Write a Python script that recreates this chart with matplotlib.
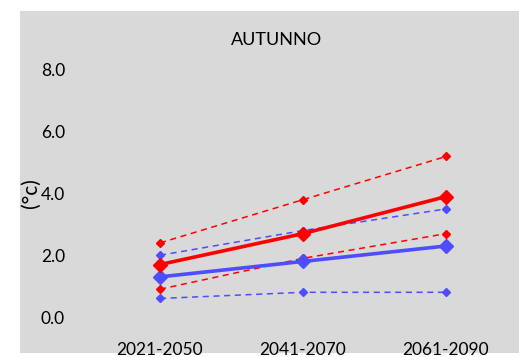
import matplotlib.pyplot as plt
from matplotlib.patches import Rectangle

periods = ['2021-2050', '2041-2070', '2061-2090']
red_mean = [1.7, 2.7, 3.9]
red_high = [2.4, 3.8, 5.2]
red_low = [0.9, 1.9, 2.7]
blue_mean = [1.3, 1.8, 2.3]
blue_high = [2.0, 2.8, 3.5]
blue_low = [0.6, 0.8, 0.8]
yticks = [0.0, 2.0, 4.0, 6.0, 8.0]

plt.rcParams['font.family'] = ['Lato', 'DejaVu Sans']

RED = '#ff0000'
BLUE = '#4d4dff'

fig = plt.figure(figsize=(5.19, 3.57), dpi=100)
fig.patches.append(Rectangle((20/519, 4/357), 499/519, 342/357,
                             transform=fig.transFigure, facecolor='#d9d9d9',
                             edgecolor='none', zorder=-10))

ax = fig.add_axes([88.5/519, 40/357, 429/519, 247/357])
ax.set_facecolor('none')
x = range(1, len(periods) + 1)

# dashed range lines first, means on top
for vals, c in [(red_high, RED), (red_low, RED), (blue_high, BLUE), (blue_low, BLUE)]:
    ax.plot(x, vals, color=c, lw=1.1, ls=(0, (4, 3)), marker='D', ms=4.5, mec=c, mfc=c)
ax.plot(x, blue_mean, color=BLUE, lw=2.6, marker='D', ms=7.5, zorder=3)
ax.plot(x, red_mean, color=RED, lw=2.6, marker='D', ms=7.5, zorder=4)

ax.set_xlim(0.5, 3.5)
ax.set_ylim(0, 8)
ax.set_xticks(list(x))
ax.set_xticklabels(periods)
ax.set_yticks(yticks)
ax.set_yticklabels([f'{v:.1f}' for v in yticks])
ax.tick_params(length=0, labelsize=12.5, colors='black')
ax.tick_params(axis='x', pad=18)
ax.tick_params(axis='y', pad=17)
for s in ax.spines.values():
    s.set_visible(False)

ax.set_ylabel('(°c)', fontsize=15)
ax.yaxis.set_label_coords(-0.112, 0.5)
fig.text(277/519, 1 - 40/357, 'AUTUNNO', ha='center', va='center', fontsize=13)

fig.savefig('out.png', dpi=100)
